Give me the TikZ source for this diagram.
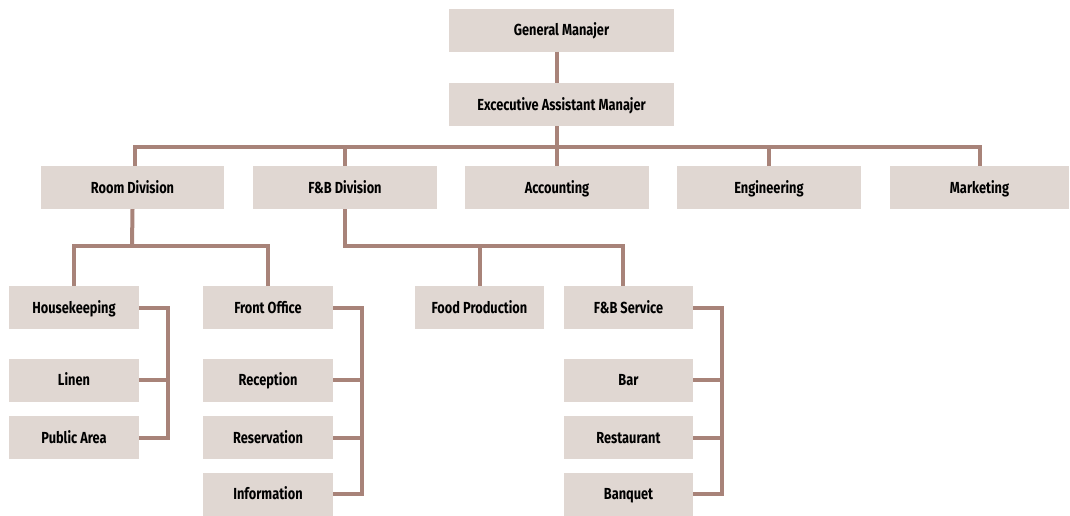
\documentclass[tikz,border=0pt]{standalone}
\usepackage{fontspec}
\setmainfont[FakeStretch=0.8]{Fira Sans}
\definecolor{boxfill}{HTML}{E0D7D2}
\definecolor{linkcol}{HTML}{A88379}
\begin{document}
\begin{tikzpicture}[x=1pt,y=-1pt,
	box/.style={fill=boxfill, minimum height=43pt, inner sep=0pt, text height=12pt, text depth=1pt, font=\fontsize{16}{18}\selectfont\bfseries},
	link/.style={draw=linkcol, line width=4pt}]
	\useasboundingbox (0,0) rectangle (1070,515);
	% top
	\node[box, minimum width=225pt] (gm) at (561.5,30) {General Manajer};
	\node[box, minimum width=225pt] (eam) at (561.5,104.5) {Excecutive Assistant Manajer};
	% divisions
	\node[box, minimum width=183pt] (room) at (132.5,187.5) {Room Division};
	\node[box, minimum width=184pt] (fb) at (345,187.5) {F\&B Division};
	\node[box, minimum width=184pt] (acc) at (557,187.5) {Accounting};
	\node[box, minimum width=184pt] (eng) at (769,187.5) {Engineering};
	\node[box, minimum width=179pt] (mkt) at (979.5,187.5) {Marketing};
	% departments
	\node[box, minimum width=130pt] (hk) at (74,307.5) {Housekeeping};
	\node[box, minimum width=130pt] (linen) at (74,380) {Linen};
	\node[box, minimum width=130pt] (pa) at (74,437.5) {Public Area};
	\node[box, minimum width=130pt] (fo) at (268,307.5) {Front Office};
	\node[box, minimum width=130pt] (rec) at (268,380) {Reception};
	\node[box, minimum width=130pt] (res) at (268,437.5) {Reservation};
	\node[box, minimum width=130pt] (info) at (268,494) {Information};
	\node[box, minimum width=129pt] (fp) at (479.5,307.5) {Food Production};
	\node[box, minimum width=129pt] (fbs) at (628.5,307.5) {F\&B Service};
	\node[box, minimum width=129pt] (bar) at (628.5,380) {Bar};
	\node[box, minimum width=129pt] (rest) at (628.5,437.5) {Restaurant};
	\node[box, minimum width=129pt] (banq) at (628.5,494) {Banquet};
	% connectors
	\coordinate (bus) at (557,147);
	\coordinate (roombus) at (132,246);
	\coordinate (fbbus) at (623,246);
	\draw[link] (gm.south -| bus) -- (eam.north -| bus);
	\draw[link] (eam.south -| bus) -- (bus);
	\draw[link] (room.north -| 135,0) |- (bus) -| (mkt.north);
	\draw[link] (fb.north) -- (fb.north |- bus);
	\draw[link] (acc.north) -- (bus);
	\draw[link] (eng.north) -- (eng.north |- bus);
	\draw[link] (hk.north) |- (roombus) -| (fo.north);
	\draw[link] (room.south) -- (roombus);
	\draw[link] (fb.south) |- (fbbus) -- (fbs.north -| fbbus);
	\draw[link] (fp.north) -- (fp.north |- fbbus);
	\draw[link] (hk.east) -| (168,437.5) -- (pa.east);
	\draw[link] (linen.east) -- (168,380);
	\draw[link] (fo.east) -| (362,494) -- (info.east);
	\draw[link] (rec.east) -- (362,380);
	\draw[link] (res.east) -- (362,437.5);
	\draw[link] (fbs.east) -| (722,494) -- (banq.east);
	\draw[link] (bar.east) -- (722,380);
	\draw[link] (rest.east) -- (722,437.5);
\end{tikzpicture}
\end{document}
